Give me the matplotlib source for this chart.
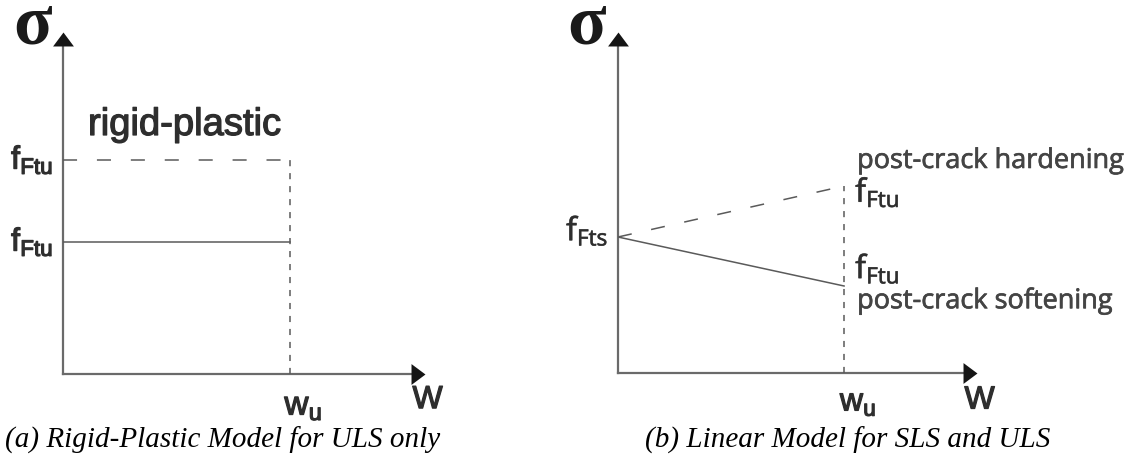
import matplotlib.pyplot as plt
import matplotlib.patheffects as pe

plt.rcParams['mathtext.fontset'] = 'custom'
plt.rcParams['mathtext.sf'] = 'Liberation Sans'
plt.rcParams['mathtext.rm'] = 'Open Sans'
plt.rcParams['mathtext.bf'] = 'Liberation Serif:bold'

# crack opening: ultimate value w_u taken as 1
w_pts = [0.0, 1.0]
w_u = 1.0

# (a) rigid-plastic model, stress levels
rp_upper = [2.14, 2.14]
rp_lower = [1.32, 1.32]

# (b) linear model, stress levels
f_fts = 1.36
lin_hard = [f_fts, 1.87]
lin_soft = [f_fts, 0.87]

W, H = 1140, 456
fig = plt.figure(figsize=(W / 100, H / 100), dpi=100)

AX_COL = '#6a6a6a'
LINE_COL = '#5a5a5a'
TXT_COL = '#2e2e2e'
thick = [pe.withStroke(linewidth=0.9, foreground=TXT_COL)]
thin = [pe.withStroke(linewidth=0.5, foreground='#444444')]

# triangle head, wider than tall
HEAD_UP = [(-1, -0.67), (1, -0.67), (0, 0.67), (-1, -0.67)]
HEAD_RIGHT = [(-0.67, -1), (-0.67, 1), (0.67, 0), (-0.67, -1)]


def make_axes(x0, y0, x1, y1, xmax, ymax):
    # x0,y0 = origin pixel, x1,y1 = arrow tips
    ax = fig.add_axes([x0 / W, 1 - y0 / H, (x1 - x0) / W, (y0 - y1) / H])
    ax.set_xlim(0, xmax)
    ax.set_ylim(0, ymax)
    ax.axis('off')
    ax.plot([0, 0], [0, ymax * 0.97], color=AX_COL, lw=1.6, clip_on=False)
    ax.plot([0, xmax * 0.98], [0, 0], color=AX_COL, lw=1.6, clip_on=False)
    ax.plot(0, ymax - 0.07, marker=HEAD_UP, ms=15, color='#151515', mew=0, clip_on=False)
    ax.plot(xmax - 0.03, 0, marker=HEAD_RIGHT, ms=15, color='#151515', mew=0, clip_on=False)
    return ax


def sigma(ax, ymax, dx):
    ax.annotate(r'$\mathbf{σ}$', xy=(0, ymax), xytext=(dx, -7.5), textcoords='offset points',
                ha='right', va='baseline', fontsize=51, color='#1a1a1a')


# ---- (a) rigid-plastic ----
axa = make_axes(63, 375, 425, 33, 1.595, 3.42)
sigma(axa, 3.42, -7)
axa.plot(w_pts, rp_upper, color=LINE_COL, lw=1.1, dashes=(9.2, 13))
axa.plot(w_pts, rp_lower, color=LINE_COL, lw=1.1)
axa.plot([w_u, w_u], [0, rp_upper[1]], color=LINE_COL, lw=1.1, dashes=(4, 4.5))
for lv in (rp_upper[0], rp_lower[0]):
    axa.annotate(r'$\mathsf{f}_{\mathsf{Ftu}}$', xy=(0, lv), xytext=(-7, 0),
                 textcoords='offset points', ha='right', va='center',
                 fontsize=23, color=TXT_COL, path_effects=thick)
axa.annotate('rigid-plastic', xy=(0, rp_upper[0]), xytext=(18, 18),
             textcoords='offset points', ha='left', va='baseline',
             fontsize=27.5, family='Liberation Sans', color=TXT_COL, path_effects=thick)
axa.annotate(r'$\mathsf{w}_{\mathsf{u}}$', xy=(w_u, 0), xytext=(-4, -11),
             textcoords='offset points', ha='left', va='top',
             fontsize=24, color=TXT_COL, path_effects=thick)
axa.annotate('W', xy=(1.595, 0), xytext=(-9, -8), textcoords='offset points',
             ha='left', va='top', fontsize=23, family='Liberation Sans',
             color=TXT_COL, path_effects=thick)

# ---- (b) linear model ----
axb = make_axes(618, 374, 977, 33, 1.588, 3.41)
sigma(axb, 3.41, -8)
axb.plot(w_pts, lin_hard, color=LINE_COL, lw=1.1, dashes=(9.2, 13))
axb.plot(w_pts, lin_soft, color=LINE_COL, lw=1.1)
axb.plot([w_u, w_u], [0, lin_hard[1]], color=LINE_COL, lw=1.1, dashes=(4, 4.5))
axb.annotate(r'$\mathrm{f}_{\mathrm{Fts}}$', xy=(0, f_fts), xytext=(-7, 5),
             textcoords='offset points', ha='right', va='center',
             fontsize=23, color=TXT_COL, path_effects=thin)
axb.annotate(r'$\mathrm{f}_{\mathrm{Ftu}}$', xy=(w_u, lin_hard[1]), xytext=(8, -4),
             textcoords='offset points', ha='left', va='center',
             fontsize=23, color=TXT_COL, path_effects=thin)
axb.annotate('post-crack hardening', xy=(w_u, lin_hard[1]), xytext=(9.4, 13),
             textcoords='offset points', ha='left', va='baseline',
             fontsize=19.5, family='Open Sans', color='#444444', path_effects=thin)
axb.annotate(r'$\mathrm{f}_{\mathrm{Ftu}}$', xy=(w_u, lin_soft[1]), xytext=(8, 13),
             textcoords='offset points', ha='left', va='center',
             fontsize=23, color=TXT_COL, path_effects=thin)
axb.annotate('post-crack softening', xy=(w_u, lin_soft[1]), xytext=(9.4, -16),
             textcoords='offset points', ha='left', va='baseline',
             fontsize=19.5, family='Open Sans', color='#444444', path_effects=thin)
axb.annotate(r'$\mathsf{w}_{\mathsf{u}}$', xy=(w_u, 0), xytext=(-3, -10),
             textcoords='offset points', ha='left', va='top',
             fontsize=23, color=TXT_COL, path_effects=thick)
axb.annotate('W', xy=(1.588, 0), xytext=(-9, -9), textcoords='offset points',
             ha='left', va='top', fontsize=23, family='Liberation Sans',
             color=TXT_COL, path_effects=thick)

# captions
fig.text(5 / W, 1 - 440 / H, '(a) Rigid-Plastic Model for ULS only', ha='left',
         va='center', fontsize=21, style='italic', family='Liberation Serif')
fig.text(848 / W, 1 - 440 / H, '(b) Linear Model for SLS and ULS', ha='center',
         va='center', fontsize=21, style='italic', family='Liberation Serif')

fig.savefig('out.png', dpi=100, facecolor='white')
